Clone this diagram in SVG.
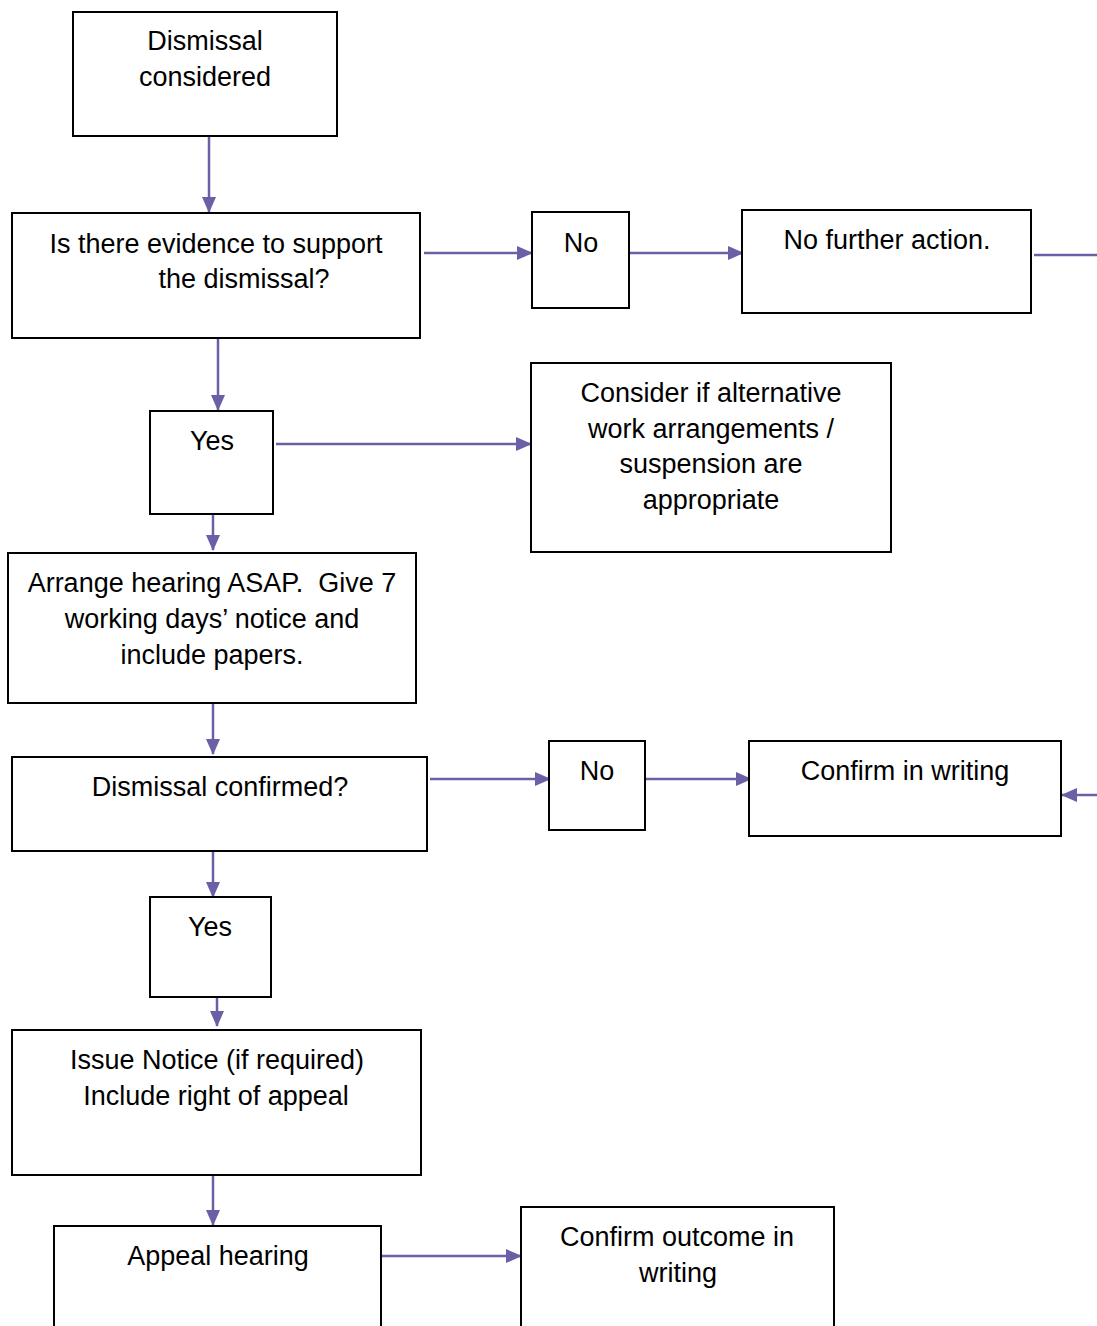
<svg xmlns="http://www.w3.org/2000/svg" width="1097" height="1326" viewBox="0 0 1097 1326">
<defs>
<style>
.box{fill:#fff;stroke:#000;stroke-width:2}
.t{font-family:"Liberation Sans",Arial,sans-serif;font-size:27px;fill:#000;text-anchor:middle}
.c{stroke:#6b5fa5;stroke-width:2.5;fill:none}
</style>
<marker id="ah" markerUnits="userSpaceOnUse" markerWidth="16" markerHeight="14" refX="15" refY="7" orient="auto">
<path d="M0,0 L16,7 L0,14 Z" fill="#6b5fa5"/>
</marker>
</defs>
<rect width="1097" height="1326" fill="#fff"/>
<g id="connectors">
<line class="c" x1="209" y1="136" x2="209" y2="212" marker-end="url(#ah)"/>
<line class="c" x1="424" y1="253" x2="532" y2="253" marker-end="url(#ah)"/>
<line class="c" x1="629" y1="253" x2="743" y2="253" marker-end="url(#ah)"/>
<line class="c" x1="1034" y1="255" x2="1097" y2="255"/>
<line class="c" x1="218" y1="338" x2="218" y2="410" marker-end="url(#ah)"/>
<line class="c" x1="276" y1="444" x2="531" y2="444" marker-end="url(#ah)"/>
<line class="c" x1="213" y1="514" x2="213" y2="550" marker-end="url(#ah)"/>
<line class="c" x1="213" y1="703" x2="213" y2="754" marker-end="url(#ah)"/>
<line class="c" x1="430" y1="779" x2="550" y2="779" marker-end="url(#ah)"/>
<line class="c" x1="645" y1="779" x2="751" y2="779" marker-end="url(#ah)"/>
<line class="c" x1="1097" y1="795" x2="1062" y2="795" marker-end="url(#ah)"/>
<line class="c" x1="213" y1="851" x2="213" y2="897" marker-end="url(#ah)"/>
<line class="c" x1="217" y1="997" x2="217" y2="1026" marker-end="url(#ah)"/>
<line class="c" x1="213" y1="1175" x2="213" y2="1225" marker-end="url(#ah)"/>
<line class="c" x1="382" y1="1256" x2="521" y2="1256" marker-end="url(#ah)"/>
</g>
<g id="n1"><rect class="box" x="73" y="12" width="264" height="124"/>
<text class="t" x="205" y="50">Dismissal</text><text class="t" x="205" y="86">considered</text></g>
<g id="n2"><rect class="box" x="12" y="213" width="408" height="125"/>
<text class="t" x="216" y="253">Is there evidence to support</text><text class="t" x="244" y="288">the dismissal?</text></g>
<g id="n3"><rect class="box" x="532" y="212" width="97" height="96"/>
<text class="t" x="581" y="252">No</text></g>
<g id="n4"><rect class="box" x="742" y="210" width="289" height="103"/>
<text class="t" x="887" y="249">No further action.</text></g>
<g id="n5"><rect class="box" x="150" y="411" width="123" height="103"/>
<text class="t" x="212" y="450">Yes</text></g>
<g id="n6"><rect class="box" x="531" y="363" width="360" height="189"/>
<text class="t" x="711" y="402">Consider if alternative</text><text class="t" x="711" y="438">work arrangements /</text><text class="t" x="711" y="473">suspension are</text><text class="t" x="711" y="509">appropriate</text></g>
<g id="n7"><rect class="box" x="8" y="553" width="408" height="150"/>
<text class="t" x="212" y="592" xml:space="preserve">Arrange hearing ASAP.  Give 7</text><text class="t" x="212" y="628">working days’ notice and</text><text class="t" x="212" y="664">include papers.</text></g>
<g id="n8"><rect class="box" x="12" y="757" width="415" height="94"/>
<text class="t" x="220" y="796">Dismissal confirmed?</text></g>
<g id="n9"><rect class="box" x="549" y="741" width="96" height="89"/>
<text class="t" x="597" y="780">No</text></g>
<g id="n10"><rect class="box" x="749" y="741" width="312" height="95"/>
<text class="t" x="905" y="780">Confirm in writing</text></g>
<g id="n11"><rect class="box" x="150" y="897" width="121" height="100"/>
<text class="t" x="210" y="936">Yes</text></g>
<g id="n12"><rect class="box" x="12" y="1030" width="409" height="145"/>
<text class="t" x="217" y="1069">Issue Notice (if required)</text><text class="t" x="216" y="1105">Include right of appeal</text></g>
<g id="n13"><rect class="box" x="54" y="1226" width="327" height="110"/>
<text class="t" x="218" y="1265">Appeal hearing</text></g>
<g id="n14"><rect class="box" x="521" y="1207" width="313" height="130"/>
<text class="t" x="677" y="1246">Confirm outcome in</text><text class="t" x="678" y="1282">writing</text></g>
</svg>
